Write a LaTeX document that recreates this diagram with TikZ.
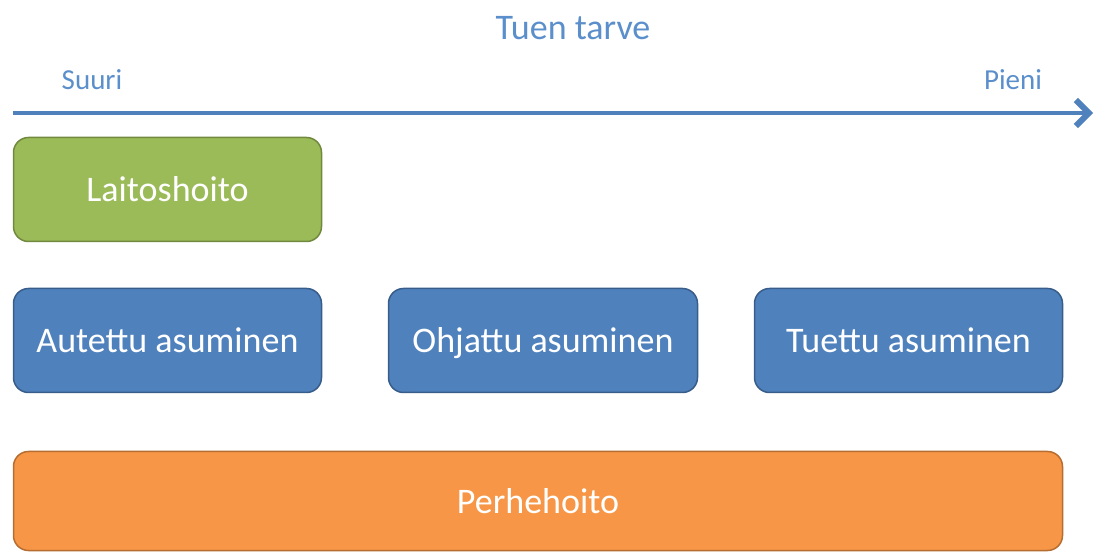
\documentclass[tikz,border=0pt]{standalone}
\usepackage{fontspec}
\setmainfont{Carlito}
\usetikzlibrary{arrows.meta}
\definecolor{tblue}{HTML}{4F81BD}
\definecolor{tblueb}{HTML}{385D8A}
\definecolor{tgreen}{HTML}{9BBB59}
\definecolor{tgreenb}{HTML}{71893F}
\definecolor{torange}{HTML}{F79646}
\definecolor{torangeb}{HTML}{B66D31}
\definecolor{ttext}{HTML}{5B8FCB}
\tikzset{
  box/.style={rounded corners=15pt, line width=1.5pt, minimum height=104pt, text=white, font=\fontsize{36}{40}\selectfont, text height=26pt, text depth=2pt},
  greenbox/.style={box, fill=tgreen, draw=tgreenb},
  bluebox/.style={box, fill=tblue, draw=tblueb},
  orangebox/.style={box, fill=torange, draw=torangeb},
  lbl/.style={text=ttext, inner sep=0pt},
}
\begin{document}
\begin{tikzpicture}[x=1pt,y=-1pt]
\useasboundingbox (0,0) rectangle (1096,553);
\node[lbl, font=\fontsize{36}{40}\selectfont] (title) at (573,28) {Tuen tarve};
\node[lbl, font=\fontsize{29}{32}\selectfont] (suuri) at (92,80) {Suuri};
\node[lbl, font=\fontsize{29}{32}\selectfont] (pieni) at (1013,80) {Pieni};
\coordinate (a0) at (13,113);
\coordinate (a1) at (1093,113);
\draw[tblue, line width=3.5pt, -{Straight Barb[length=13pt,width=26pt,line width=6pt]}] (a0) -- (a1);
\node[greenbox, minimum width=308pt] (laitos) at (167.5,189.5) {Laitoshoito};
\node[bluebox, minimum width=308pt] (autettu) at (167.5,340.5) {Autettu asuminen};
\node[bluebox, minimum width=309pt] (ohjattu) at (543,340.5) {Ohjattu asuminen};
\node[bluebox, minimum width=308pt] (tuettu) at (908.5,340.5) {Tuettu asuminen};
\node[orangebox, minimum width=1049pt, minimum height=99pt] (perhe) at (538,501) {Perhehoito};
\end{tikzpicture}
\end{document}
